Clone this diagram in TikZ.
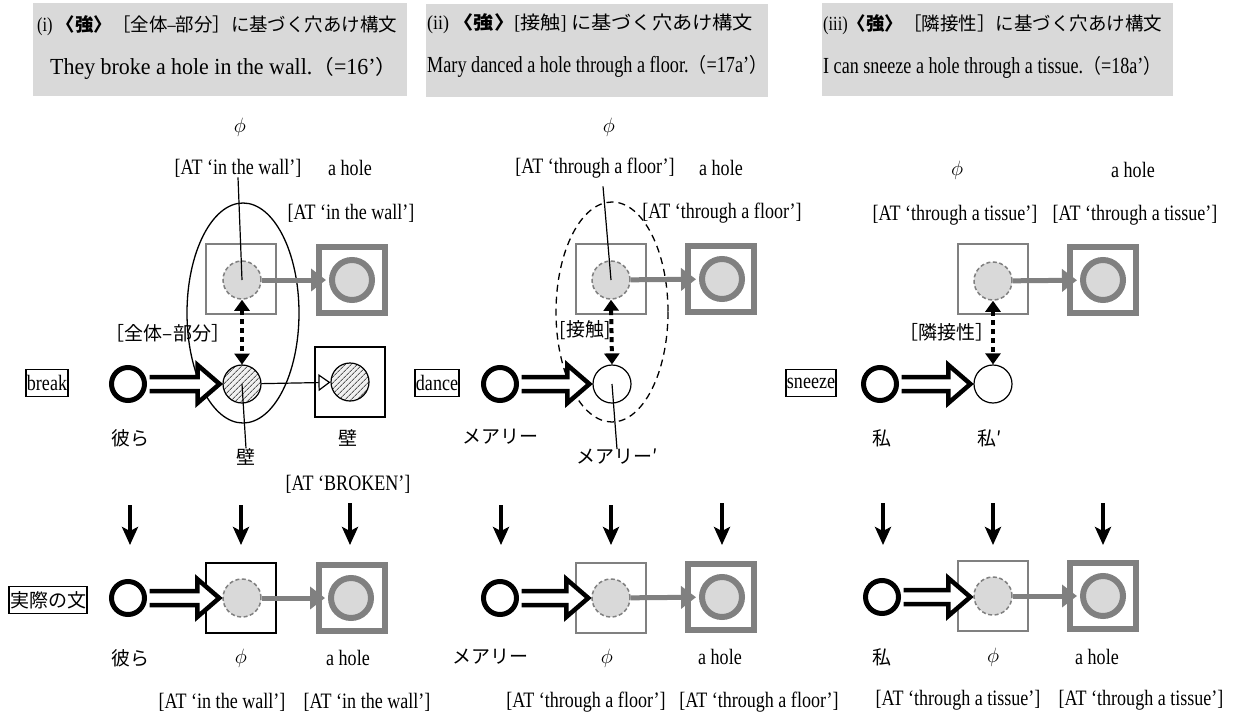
\documentclass[tikz,border=0pt]{standalone}
\usepackage{graphicx}
\usepackage{fontspec}
\setmainfont{Liberation Serif}[FakeStretch=0.82]
\newfontfamily\banf{Liberation Serif}[FakeStretch=0.88]
\newfontfamily\jpf{Noto Sans CJK JP}
\usetikzlibrary{arrows.meta,calc,patterns.meta}
\definecolor{bgray}{HTML}{D9D9D9}
\definecolor{mgray}{HTML}{808080}
\definecolor{lgray}{HTML}{D9D9D9}
\newcommand\Jb[1]{{\jpf\fontsize{18.5}{20}\selectfont #1}}
\newcommand\Jp[1]{{\jpf\fontsize{20}{22}\selectfont #1}}
\newcommand\fitw[2]{\resizebox{#1pt}{\height}{#2}}
\newcommand\hollowarr[2]{%
  \draw[hollow] let \p1=(#1.east), \p2=(#2.west) in
    (\x1+2.5pt,\y1+7pt) -- (\x2-25pt,\y1+7pt) -- (\x2-25pt,\y1+19pt) -- (\x2-3pt,\y1)
    -- (\x2-25pt,\y1-19pt) -- (\x2-25pt,\y1-7pt) -- (\x1+2.5pt,\y1-7pt);}
\begin{document}
\begin{tikzpicture}[x=1pt,y=-1pt,
  bt/.style={font=\fontsize{20}{24}\selectfont, inner sep=0pt, anchor=west},
  bs/.style={font=\banf\fontsize{23}{26}\selectfont, inner sep=0pt, anchor=west},
  lat/.style={font=\fontsize{22}{24}\selectfont, inner sep=0pt},
  jl/.style={font=\jpf\fontsize{19}{22}\selectfont, inner sep=0pt},
  agent/.style={circle, draw, line width=5pt, minimum size=33pt, fill=white, inner sep=0pt},
  hatch/.style={circle, draw, line width=1.2pt, minimum size=38pt, inner sep=0pt,
     preaction={fill=gray!12}, pattern={Lines[angle=45,distance=4pt,line width=0.9pt]}, pattern color=black!65},
  wcirc/.style={circle, draw, line width=1.2pt, minimum size=38pt, fill=white, inner sep=0pt},
  dcirc/.style={circle, draw=mgray, dash pattern=on 4pt off 2.5pt, line width=1.5pt, fill=lgray, minimum size=38pt, inner sep=0pt},
  hcirc/.style={circle, draw=mgray, line width=6pt, fill=lgray, minimum size=40pt, inner sep=0pt},
  tsq/.style={rectangle, draw=mgray, line width=1.5pt, minimum size=70pt, inner sep=0pt},
  bsq/.style={rectangle, draw=black, line width=1.5pt, minimum size=70pt, inner sep=0pt},
  Tsq/.style={rectangle, draw=mgray, line width=6.5pt, minimum size=66pt, inner sep=0pt},
  wordbox/.style={draw, line width=1.2pt, inner xsep=1pt, inner ysep=2pt, minimum height=27pt},
  garrow/.style={draw=mgray, line width=5pt, -{Triangle[length=15pt,width=22pt]}, shorten >=3pt},
  tarrow/.style={draw, line width=1.2pt, -{Triangle[open,length=12pt,width=17pt]}},
  darrow/.style={draw, line width=4pt, dash pattern=on 5pt off 4pt,
     {Triangle[length=11pt,width=15pt]}-{Triangle[length=11pt,width=15pt]}},
  downarr/.style={draw, line width=3.5pt, -{Stealth[length=18pt,width=16pt,inset=4pt]}},
  hollow/.style={draw, line width=4.5pt, fill=white, line join=miter},
  pin/.style={draw, line width=1.2pt},
  ell/.style={draw, line width=1.3pt}
]
\useasboundingbox (0,0) rectangle (1239,712);
% ---------------- banners
\fill[bgray] (33,3) rectangle (407,96);
\fill[bgray] (426,4) rectangle (768,97);
\fill[bgray] (822,3) rectangle (1173,96);
\node[bt] (b1a) at (37,26) {\fitw{360}{(i) \Jb{\bfseries 〈強〉}\Jb{［全体}–\Jb{部分］に基づく穴あけ構文}}};
\node[bs] (b1b) at (50,68) {\fitw{347}{They broke a hole in the wall.\Jp{（}=16’\Jp{）}}};
\node[bt] (b2a) at (427,24) {\fitw{326}{(ii) \Jb{\bfseries 〈強〉}[\Jb{接触}] \Jb{に基づく穴あけ構文}}};
\node[bs] (b2b) at (427,66) {\fitw{340}{Mary danced a hole through a floor.\Jp{（}=17a’\Jp{）}}};
\node[bt] (b3a) at (823,25) {\fitw{339}{(iii)\Jb{\bfseries 〈強〉}\Jb{［隣接性］に基づく穴あけ構文}}};
\node[bs] (b3b) at (823,67) {\fitw{338}{I can sneeze a hole through a tissue.\Jp{（}=18a’\Jp{）}}};

% ---------------- ellipses
\coordinate (e1) at (243,313);
\draw[ell] (e1) ellipse [x radius=56, y radius=110];
\coordinate (e2) at (612,312);
\draw[ell, dash pattern=on 7pt off 5pt] (e2) ellipse [x radius=56, y radius=110];

% ================= PANEL 1
\node[lat] (phi1) at (240,127) {$\phi$};
\node[lat] (at1a) at (238,168) {[AT ‘in the wall’]};
\node[lat] (hole1) at (350,168) {a hole};
\node[lat] (at1b) at (351,213) {[AT ‘in the wall’]};
\node[tsq] (tsq1) at (241,279) {};
\node[dcirc] (dc1) at (242,280) {};
\node[Tsq] (Tsq1) at (352,280) {};
\node[hcirc] (hc1) at (352,280) {};
\node[jl] (rel1) at (168,333) {［全体–部分］};
\node[lat, wordbox] (break) at (47,383) {break};
\node[agent] (ag1) at (128,384) {};
\node[hatch] (ht1) at (242,384) {};
\node[bsq] (sq1) at (350,382) {};
\node[hatch] (ht1b) at (350,382) {};
\node[jl] (they1) at (130,438) {彼ら};
\node[jl] (wall1b) at (348,438) {壁};
\node[jl] (wall1) at (246,457) {壁};
\node[lat] (brok) at (348,484) {[AT ‘BROKEN’]};
% lower row
\node[jl, wordbox] (actual) at (48,600) {実際の文};
\node[agent] (ag1r) at (128,598) {};
\node[bsq] (tsq1r) at (241,598) {};
\node[dcirc] (dc1r) at (242,598) {};
\node[Tsq] (Tsq1r) at (352,598) {};
\node[hcirc] (hc1r) at (351,598) {};
\node[jl] (they1r) at (130,658) {彼ら};
\node[lat] (phi1r) at (241,658) {$\phi$};
\node[lat] (hole1r) at (348,658) {a hole};
\node[lat] (at1c) at (222,702) {[AT ‘in the wall’]};
\node[lat] (at1d) at (367,702) {[AT ‘in the wall’]};
% connectors
\draw[pin] (at1a.south) -- (dc1.center);
\draw[garrow] (dc1) -- (hc1);
\draw[darrow] (dc1.south) -- (ht1.north);
\hollowarr{ag1}{ht1}
\draw[tarrow] (ht1) -- (ht1b);
\draw[pin] (ht1.center) -- (wall1.north);
\coordinate (d1a) at (130,505); \coordinate (d1b) at (130,545);
\coordinate (d2a) at (241,505); \coordinate (d2b) at (241,545);
\coordinate (d3a) at (350,503); \coordinate (d3b) at (350,545);
\draw[downarr] (d1a) -- (d1b);
\draw[downarr] (d2a) -- (d2b);
\draw[downarr] (d3a) -- (d3b);
\hollowarr{ag1r}{dc1r}
\draw[garrow] (dc1r) -- (hc1r);

% ================= PANEL 2
\node[lat] (phi2) at (609,127) {$\phi$};
\node[lat] (at2a) at (595,168) {[AT ‘through a floor’]};
\node[lat] (hole2) at (721,168) {a hole};
\node[lat] (at2b) at (722,213) {[AT ‘through a floor’]};
\node[tsq] (tsq2) at (611,279) {};
\node[dcirc] (dc2) at (611,280) {};
\node[Tsq] (Tsq2) at (721,279) {};
\node[hcirc] (hc2) at (722,279) {};
\node[jl] (rel2) at (585,330) {[接触]};
\node[lat, wordbox] (dance) at (437,383) {dance};
\node[agent] (ag2) at (500,384) {};
\node[wcirc] (wc2) at (612,384) {};
\node[jl] (mary2) at (500,437) {メアリー};
\node[jl] (mary2p) at (617,457) {メアリー′};
\node[agent] (ag2r) at (500,598) {};
\node[tsq] (tsq2r) at (611,598) {};
\node[dcirc] (dc2r) at (611,598) {};
\node[Tsq] (Tsq2r) at (721,597) {};
\node[hcirc] (hc2r) at (722,597) {};
\node[jl] (mary2r) at (490,657) {メアリー};
\node[lat] (phi2r) at (607,658) {$\phi$};
\node[lat] (hole2r) at (720,657) {a hole};
\node[lat] (at2c) at (586,702) {[AT ‘through a floor’]};
\node[lat] (at2d) at (759,702) {[AT ‘through a floor’]};
\draw[pin] ([xshift=8pt,yshift=-8pt]at2a.south) -- (dc2.center);
\draw[garrow] (dc2) -- (hc2);
\draw[darrow] (dc2.south) -- (wc2.north);
\hollowarr{ag2}{wc2}
\draw[pin] (wc2.center) -- (mary2p.north);
\coordinate (d4a) at (501,505); \coordinate (d4b) at (501,545);
\coordinate (d5a) at (611,505); \coordinate (d5b) at (611,545);
\coordinate (d6a) at (722,503); \coordinate (d6b) at (722,545);
\draw[downarr] (d4a) -- (d4b);
\draw[downarr] (d5a) -- (d5b);
\draw[downarr] (d6a) -- (d6b);
\hollowarr{ag2r}{dc2r}
\draw[garrow] (dc2r) -- (hc2r);

% ================= PANEL 3
\node[lat] (phi3) at (957,170) {$\phi$};
\node[lat] (hole3) at (1133,170) {a hole};
\node[lat] (at3a) at (955,215) {[AT ‘through a tissue’]};
\node[lat] (at3b) at (1135,215) {[AT ‘through a tissue’]};
\node[tsq] (tsq3) at (993,279) {};
\node[dcirc] (dc3) at (993,281) {};
\node[Tsq] (Tsq3) at (1103,280) {};
\node[hcirc] (hc3) at (1103,280) {};
\node[jl] (rel3) at (947,332) {［隣接性］};
\node[lat, wordbox] (sneeze) at (811,383) {sneeze};
\node[agent] (ag3) at (880,384) {};
\node[wcirc] (wc3) at (993,384) {};
\node[jl] (me3) at (882,438) {私};
\node[jl] (me3p) at (990,438) {私′};
\node[agent] (ag3r) at (882,597) {};
\node[tsq] (tsq3r) at (993,596) {};
\node[dcirc] (dc3r) at (993,596) {};
\node[Tsq] (Tsq3r) at (1103,596) {};
\node[hcirc] (hc3r) at (1103,596) {};
\node[jl] (me3r) at (882,657) {私};
\node[lat] (phi3r) at (993,657) {$\phi$};
\node[lat] (hole3r) at (1097,657) {a hole};
\node[lat] (at3c) at (958,700) {[AT ‘through a tissue’]};
\node[lat] (at3d) at (1141,700) {[AT ‘through a tissue’]};
\draw[garrow] (dc3) -- (hc3);
\draw[darrow] (dc3.south) -- (wc3.north);
\hollowarr{ag3}{wc3}
\coordinate (d7a) at (883,503); \coordinate (d7b) at (883,545);
\coordinate (d8a) at (993,503); \coordinate (d8b) at (993,545);
\coordinate (d9a) at (1103,503); \coordinate (d9b) at (1103,545);
\draw[downarr] (d7a) -- (d7b);
\draw[downarr] (d8a) -- (d8b);
\draw[downarr] (d9a) -- (d9b);
\hollowarr{ag3r}{dc3r}
\draw[garrow] (dc3r) -- (hc3r);
\end{tikzpicture}
\end{document}
